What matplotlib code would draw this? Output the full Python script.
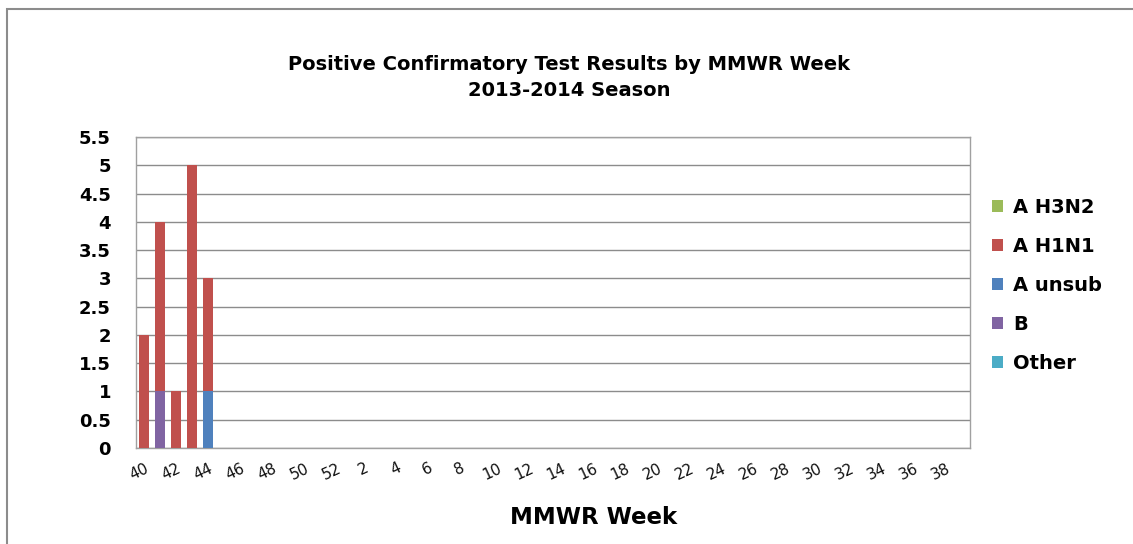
import matplotlib
matplotlib.use("Agg")
import matplotlib.pyplot as plt
from matplotlib.patches import Rectangle
import matplotlib.transforms as mtransforms
import numpy as np

weeks = [str(w) for w in list(range(40, 53)) + list(range(1, 40))]
a_h3n2 = [0] * 52
a_h1n1 = [2, 3, 1, 5, 2] + [0] * 47
a_unsub = [0, 0, 0, 0, 1] + [0] * 47
b_vals = [0, 1, 0, 0, 0] + [0] * 47
other = [0] * 52

series_names = ["Other", "B", "A unsub", "A H1N1", "A H3N2"]
series_vals = [other, b_vals, a_unsub, a_h1n1, a_h3n2]
series_colors = ["#4BACC6", "#8064A2", "#4F81BD", "#C0504D", "#9BBB59"]

title_lines = ["Positive Confirmatory Test Results by MMWR Week", "2013-2014 Season"]
xlabel = "MMWR Week"
yticks = [0, 0.5, 1, 1.5, 2, 2.5, 3, 3.5, 4, 4.5, 5, 5.5]
ytick_labels = ["0", "0.5", "1", "1.5", "2", "2.5", "3", "3.5", "4", "4.5", "5", "5.5"]

W, H = 1133, 544
plt.rcParams["font.family"] = ["DejaVu Sans"]
fig = plt.figure(figsize=(W / 100, H / 100), dpi=100)

# outer border
fig.patches.append(Rectangle((7 / W, -0.1), 1.2, 1 - 9 / H + 0.1, transform=fig.transFigure,
                             fill=False, edgecolor="#8c8c8c", linewidth=1.5))

left, right, top, bottom = 136, 970, 137, 448
ax = fig.add_axes([left / W, 1 - bottom / H, (right - left) / W, (bottom - top) / H])

x = np.arange(len(weeks))
base = np.zeros(len(weeks))
handles = {}
for name, vals, col in zip(series_names, series_vals, series_colors):
    v = np.array(vals, dtype=float)
    h = ax.bar(x, v, bottom=base, width=0.65, color=col, label=name, zorder=3)
    handles[name] = h
    base += v

ax.set_xlim(-0.5, len(weeks) - 0.5)
ax.set_ylim(0, 5.5)
ax.set_yticks(yticks)
ax.set_yticklabels(ytick_labels, fontsize=13, fontweight="bold")
ax.yaxis.grid(True, color="#8c8c8c", linewidth=1, zorder=0)
ax.tick_params(axis="y", length=0, pad=18)
ax.set_xticks(x[::2])
ax.set_xticklabels(weeks[::2], rotation=25, fontsize=11, ha="center", color="#111111")
ax.tick_params(axis="x", length=0, pad=9)
offset = mtransforms.ScaledTranslation(-5 / 100, 0, fig.dpi_scale_trans)
for lbl in ax.get_xticklabels():
    lbl.set_transform(lbl.get_transform() + offset)
for sp in ax.spines.values():
    sp.set_color("#a0a0a0")
    sp.set_linewidth(1)

fig.text(569 / W, 1 - 64 / H, title_lines[0], ha="center", va="center", fontsize=14, fontweight="bold")
fig.text(569 / W, 1 - 90 / H, title_lines[1], ha="center", va="center", fontsize=14, fontweight="bold")
fig.text(594 / W, 1 - 518 / H, xlabel, ha="center", va="center", fontsize=16.5, fontweight="bold")

order = ["A H3N2", "A H1N1", "A unsub", "B", "Other"]
leg = fig.legend([handles[n] for n in order], order, loc="upper left",
                 bbox_to_anchor=(984 / W, 1 - 190 / H), frameon=False,
                 prop={"size": 14, "weight": "bold"}, handlelength=0.6, handleheight=0.6,
                 labelspacing=1.03, handletextpad=0.5, borderaxespad=0)

fig.savefig("out.png", dpi=100)
